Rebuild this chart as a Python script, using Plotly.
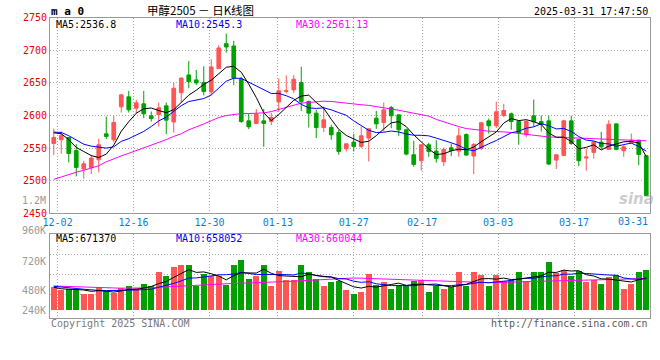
import plotly.graph_objects as go

# ---------------- data ----------------
dates = ["11-29",
         "12-02", "12-03", "12-04", "12-05", "12-06", "12-09", "12-10", "12-11", "12-12", "12-13",
         "12-16", "12-17", "12-18", "12-19", "12-20", "12-23", "12-24", "12-25", "12-26", "12-27",
         "12-30", "12-31",
         "01-02", "01-03", "01-06", "01-07", "01-08", "01-09", "01-10", "01-13", "01-14", "01-15",
         "01-16", "01-17", "01-20", "01-21", "01-22", "01-23", "01-24", "01-27",
         "02-05", "02-06", "02-07", "02-10", "02-11", "02-12", "02-13", "02-14", "02-17", "02-18",
         "02-19", "02-20", "02-21", "02-24", "02-25", "02-26", "02-27", "02-28",
         "03-03", "03-04", "03-05", "03-06", "03-07", "03-10", "03-11", "03-12", "03-13", "03-14",
         "03-17", "03-18", "03-19", "03-20", "03-21", "03-24", "03-25", "03-26", "03-27", "03-28",
         "03-31"]

opens = [2557.1, 2562.8, 2566.3, 2546.4, 2517.9, 2519.9, 2532.1, 2571.9, 2562.8, 2613.3,
         2628.6, 2611.2, 2617.9, 2599.5, 2601.5, 2614.8, 2590.0, 2635.0, 2662.2, 2654.6,
         2650.5, 2636.2, 2671.9, 2710.2, 2706.6, 2656.0, 2591.8, 2587.8, 2591.8, 2590.8,
         2620.9, 2637.0, 2639.3, 2650.5, 2621.4, 2603.6, 2581.6, 2581.6, 2574.0, 2549.0,
         2559.2, 2552.6, 2565.3, 2595.9, 2589.3, 2612.2, 2601.0, 2578.1, 2539.8, 2530.6,
         2555.1, 2545.4, 2529.1, 2550.5, 2545.4, 2570.9, 2537.8, 2549.5, 2591.8, 2584.2,
         2600.0, 2602.6, 2590.8, 2570.4, 2599.5, 2590.8, 2591.8, 2531.6, 2538.8, 2591.8,
         2563.3, 2534.7, 2543.4, 2559.2, 2548.0, 2587.2, 2545.9, 2558.2, 2562.2, 2538.3]
highs = [2580.0, 2575.5, 2567.0, 2556.1, 2530.6, 2539.8, 2564.3, 2598.5, 2599.5, 2633.0,
         2637.8, 2624.0, 2637.8, 2606.1, 2619.9, 2619.9, 2650.0, 2658.0, 2683.7, 2669.9,
         2675.5, 2686.2, 2707.7, 2725.5, 2714.3, 2659.2, 2603.1, 2610.0, 2610.0, 2604.0,
         2656.6, 2661.5, 2662.2, 2675.0, 2623.0, 2608.7, 2613.8, 2585.7, 2578.1, 2556.6,
         2571.9, 2583.2, 2580.1, 2607.1, 2619.9, 2614.8, 2601.0, 2580.0, 2561.2, 2555.6,
         2558.2, 2562.2, 2551.0, 2557.1, 2581.1, 2572.4, 2558.2, 2590.3, 2595.4, 2621.4,
         2617.9, 2604.6, 2592.3, 2593.4, 2624.5, 2600.0, 2599.5, 2539.8, 2592.9, 2599.5,
         2563.3, 2549.5, 2559.7, 2575.0, 2592.9, 2587.2, 2554.6, 2572.4, 2562.2, 2538.3]
lows = [2539.3, 2541.3, 2528.0, 2506.6, 2503.1, 2510.2, 2512.8, 2563.8, 2559.2, 2604.6,
        2604.6, 2603.6, 2595.9, 2590.8, 2583.2, 2571.4, 2574.0, 2620.0, 2641.8, 2646.9,
        2631.0, 2631.1, 2671.9, 2696.4, 2646.4, 2588.8, 2579.1, 2586.7, 2552.0, 2585.0,
        2605.6, 2634.0, 2634.2, 2607.1, 2581.6, 2565.3, 2574.5, 2562.8, 2539.8, 2544.9,
        2544.9, 2550.0, 2529.6, 2579.6, 2575.5, 2580.6, 2568.9, 2538.8, 2521.4, 2515.3,
        2536.7, 2527.6, 2522.4, 2537.8, 2536.7, 2538.5, 2510.2, 2546.9, 2572.4, 2580.6,
        2597.5, 2578.1, 2555.1, 2566.8, 2583.2, 2575.5, 2524.0, 2517.9, 2537.8, 2555.0,
        2522.4, 2515.3, 2534.2, 2548.0, 2548.0, 2546.9, 2536.7, 2557.1, 2524.0, 2477.0]
closes = [2566.3, 2569.4, 2541.8, 2520.4, 2526.0, 2534.7, 2555.1, 2567.9, 2589.3, 2631.6,
          2608.7, 2619.4, 2602.6, 2595.4, 2611.7, 2592.9, 2641.8, 2657.4, 2652.0, 2650.0,
          2636.7, 2674.5, 2703.6, 2705.1, 2657.7, 2590.8, 2582.7, 2602.0, 2587.8, 2597.0,
          2637.8, 2637.8, 2655.6, 2621.4, 2603.6, 2581.6, 2593.4, 2570.4, 2544.9, 2556.6,
          2552.6, 2568.9, 2579.6, 2587.2, 2608.7, 2599.5, 2578.1, 2540.8, 2525.0, 2555.1,
          2544.9, 2534.2, 2548.0, 2546.4, 2568.9, 2539.3, 2555.6, 2588.8, 2584.2, 2605.6,
          2607.7, 2590.8, 2572.9, 2590.8, 2590.3, 2586.7, 2525.5, 2539.8, 2591.8, 2557.1,
          2530.6, 2536.2, 2559.7, 2552.0, 2586.7, 2548.0, 2552.0, 2562.2, 2540.3, 2477.0]

ma5 = [2573.5, 2572.0, 2563.0, 2551.0, 2544.8, 2538.5, 2535.6, 2540.8, 2554.6, 2575.7,
       2590.5, 2603.4, 2610.3, 2611.5, 2607.6, 2604.4, 2608.9, 2619.8, 2631.2, 2638.8,
       2647.6, 2654.1, 2663.4, 2674.0, 2675.5, 2666.3, 2648.0, 2627.7, 2604.2, 2592.1,
       2601.5, 2612.5, 2623.2, 2629.9, 2631.2, 2620.0, 2611.1, 2594.1, 2578.8, 2569.4,
       2563.6, 2558.7, 2560.5, 2569.0, 2579.4, 2588.8, 2590.6, 2582.9, 2570.4, 2559.7,
       2548.8, 2540.0, 2541.4, 2545.7, 2548.5, 2547.4, 2551.6, 2559.8, 2567.4, 2574.7,
       2588.4, 2595.4, 2592.2, 2593.6, 2590.5, 2586.3, 2573.2, 2566.6, 2566.8, 2560.2,
       2549.0, 2551.1, 2555.1, 2547.1, 2553.0, 2556.5, 2559.7, 2560.2, 2557.8, 2536.8]
ma10 = [2574.5, 2574.0, 2569.0, 2563.0, 2556.0, 2553.0, 2551.0, 2550.0, 2552.0, 2560.3,
        2564.5, 2569.5, 2575.6, 2583.1, 2591.7, 2597.5, 2606.2, 2615.1, 2621.4, 2623.2,
        2626.0, 2631.5, 2641.6, 2652.6, 2657.2, 2657.0, 2651.1, 2645.6, 2639.1, 2633.8,
        2633.9, 2630.3, 2625.5, 2617.1, 2611.7, 2610.8, 2611.8, 2608.7, 2604.4, 2600.3,
        2591.8, 2584.9, 2577.3, 2573.9, 2574.4, 2576.2, 2574.7, 2571.7, 2569.7, 2569.6,
        2568.8, 2565.3, 2562.2, 2558.1, 2554.1, 2548.1, 2545.8, 2550.6, 2556.6, 2561.6,
        2567.9, 2573.5, 2576.0, 2580.5, 2582.6, 2587.4, 2584.3, 2579.4, 2580.2, 2575.4,
        2567.7, 2562.2, 2560.9, 2557.0, 2556.6, 2552.8, 2555.4, 2557.7, 2552.5, 2545.3]
ma30 = [2502.0, 2506.0, 2510.0, 2513.0, 2516.0, 2519.0, 2523.0, 2529.0, 2534.0, 2538.0,
        2542.0, 2546.0, 2550.0, 2554.0, 2558.0, 2563.0, 2568.0, 2572.0, 2578.0, 2582.0,
        2587.0, 2592.0, 2597.0, 2600.0, 2602.0, 2603.0, 2603.0, 2603.5, 2604.0, 2606.0,
        2609.0, 2612.0, 2615.0, 2619.0, 2620.0, 2621.0, 2622.0, 2621.5, 2620.0, 2618.5,
        2617.5, 2616.5, 2615.5, 2614.0, 2612.5, 2610.0, 2608.0, 2605.5, 2603.0, 2601.0,
        2599.0, 2594.0, 2590.0, 2586.0, 2583.0, 2580.0, 2578.5, 2577.0, 2576.0, 2575.5,
        2575.0, 2574.0, 2572.5, 2571.0, 2569.5, 2568.0, 2567.0, 2566.8, 2566.4, 2566.2,
        2566.0, 2565.8, 2565.0, 2564.0, 2563.5, 2563.0, 2562.5, 2562.0, 2561.5, 2561.13]

volume_k = [480, 411, 446, 446, 343, 343, 480, 390, 356, 459,
            506, 459, 547, 506, 780, 698, 883, 924, 924, 493,
            746, 698, 698, 527, 924, 1041, 650, 712, 924, 506,
            801, 616, 616, 938, 780, 644, 506, 575, 596, 424,
            342, 383, 753, 520, 588, 445, 520, 520, 609, 629,
            370, 506, 445, 479, 780, 493, 794, 719, 506, 719,
            609, 629, 780, 596, 794, 780, 986, 767, 835, 698,
            815, 575, 629, 547, 678, 726, 445, 547, 780, 835]
vol_ma5 = [480, 450, 440, 440, 425, 397, 412, 400, 382, 406,
           438, 435, 466, 496, 556, 598, 683, 758, 842, 785,
           795, 757, 711, 632, 719, 777, 768, 771, 851, 767,
           719, 712, 692, 695, 751, 719, 697, 689, 620, 549,
           489, 464, 499, 484, 518, 538, 565, 519, 537, 545,
           530, 527, 512, 486, 516, 541, 598, 653, 658, 647,
           669, 637, 648, 667, 682, 714, 788, 784, 832, 813,
           820, 738, 711, 653, 648, 631, 605, 588, 635, 671.37]
vol_ma10 = [500, 490, 470, 455, 440, 425, 415, 412, 412, 416,
            418, 424, 433, 439, 481, 518, 559, 612, 669, 671,
            697, 720, 735, 737, 752, 786, 763, 741, 742, 743,
            748, 740, 732, 773, 759, 719, 705, 691, 658, 650,
            604, 581, 594, 552, 534, 514, 515, 509, 511, 532,
            534, 546, 516, 512, 531, 536, 563, 583, 572, 582,
            605, 618, 651, 663, 665, 692, 713, 716, 750, 748,
            767, 763, 748, 743, 731, 726, 672, 650, 644, 658.052]
vol_ma30 = [506, 503, 499, 494, 488, 482, 476, 470, 466, 462,
            460, 462, 466, 472, 480, 488, 497, 506, 516, 526,
            537, 547, 552, 556, 560, 563, 567, 571, 575, 582,
            590, 598, 606, 615, 622, 630, 638, 645, 655, 663,
            670, 666, 660, 655, 650, 645, 638, 631, 624, 617,
            610, 605, 600, 595, 590, 585, 581, 578, 575, 576,
            578, 583, 588, 592, 598, 604, 610, 614, 618, 622,
            625, 628, 631, 634, 637, 640, 645, 650, 655, 660.044]

label_dates = ["12-02", "12-16", "12-30", "01-13", "01-27", "02-17", "03-03", "03-17"]
last_label = "03-31"
price_ticks = [2450, 2500, 2550, 2600, 2650, 2700, 2750]
vol_grid_k = [322, 732, 1142]
vol_axis_labels = ["960K", "720K", "480K", "240K"]

# ---------------- style ----------------
W, H = 660, 360
MONO = "DejaVu Sans Mono"
RED = "#ff5555"
GREEN = "#00a000"
GRID = "#aaaaaa"
FRAME = "#9a9a9a"
BLUE_TXT = "#0a7fd8"

N = len(dates)
xs = list(range(N))
# Sina spaces its date grid over N-1 steps while candles use N slots
tickpos = [dates.index(d) * N / (N - 1) - 0.5 for d in label_dates]


def px(x):
    return x / W


def py(y):
    return 1 - y / H


fig = go.Figure()

fig.add_trace(go.Candlestick(
    x=xs, open=opens, high=highs, low=lows, close=closes,
    increasing=dict(line=dict(color=RED, width=1), fillcolor=RED),
    decreasing=dict(line=dict(color=GREEN, width=1), fillcolor=GREEN),
    whiskerwidth=0, xaxis="x", yaxis="y", showlegend=False, hoverinfo="skip"))

for vals, col in ((ma30, "#ff00ff"), (ma10, "#0000ff"), (ma5, "#000000")):
    fig.add_trace(go.Scatter(x=xs, y=vals, mode="lines", line=dict(color=col, width=1),
                             xaxis="x", yaxis="y", showlegend=False, hoverinfo="skip"))

bar_colors = [RED if c >= o else GREEN for o, c in zip(opens, closes)]
fig.add_trace(go.Bar(x=xs, y=volume_k, marker=dict(color=bar_colors, line=dict(width=0)),
                     width=0.8, xaxis="x2", yaxis="y2", showlegend=False, hoverinfo="skip"))
for vals, col in ((vol_ma30, "#ff00ff"), (vol_ma10, "#0000ff"), (vol_ma5, "#000000")):
    fig.add_trace(go.Scatter(x=xs, y=vals, mode="lines", line=dict(color=col, width=1),
                             xaxis="x2", yaxis="y2", showlegend=False, hoverinfo="skip"))

xdom = [px(50), px(650)]
common_x = dict(domain=xdom, range=[-0.5, N - 0.5], tickvals=tickpos, showgrid=True,
                gridcolor=GRID, gridwidth=1, griddash="1px,2px", showline=True, mirror=True,
                linecolor=FRAME, linewidth=1, zeroline=False, ticks="", fixedrange=True,
                automargin=False)

fig.update_layout(
    width=W, height=H, autosize=False,
    margin=dict(l=0, r=0, t=0, b=0, pad=0),
    paper_bgcolor="white", plot_bgcolor="white",
    bargap=0, showlegend=False,
    xaxis=dict(**common_x, anchor="y", ticktext=label_dates,
               tickfont=dict(family=MONO, size=10, color=BLUE_TXT),
               rangeslider=dict(visible=False)),
    yaxis=dict(domain=[py(213.3), py(17.7)], range=[2450, 2750], tickvals=price_ticks,
               tickfont=dict(family=MONO, size=10, color="#ee0000"), anchor="x",
               showgrid=True, gridcolor=GRID, gridwidth=1, griddash="1px,2px",
               showline=True, mirror=True, linecolor=FRAME, linewidth=1,
               zeroline=False, ticks="", fixedrange=True, automargin=False),
    xaxis2=dict(**common_x, anchor="y2", showticklabels=False),
    yaxis2=dict(domain=[py(317.7), py(234.3)], range=[-143.5, 1566], tickvals=vol_grid_k,
                showticklabels=False, anchor="x2",
                showgrid=True, gridcolor=GRID, gridwidth=1, griddash="1px,2px",
                showline=True, mirror=True, linecolor=FRAME, linewidth=1,
                zeroline=False, ticks="", fixedrange=True, automargin=False),
)

ann = []


def text(x, y, s, color="#000", size=10, xanchor="left", family=MONO, bold=False):
    ann.append(dict(x=px(x), y=py(y), xref="paper", yref="paper", text=(f"<b>{s}</b>" if bold else s),
                    showarrow=False, xanchor=xanchor, yanchor="middle",
                    font=dict(family=family, size=size, color=color), borderpad=0))


# header
text(50, 11, "m a 0", size=11, bold=True)
text(200, 10, "甲醇2505 － 日K线图", size=11.5, xanchor="center",
     family="Noto Sans CJK SC")
text(649, 11, "2025-03-31 17:47:50", xanchor="right")

# main legend
text(55, 24.5, f"MA5:{ma5[-1]}", color="#000000")
text(175, 24.5, f"MA10:{ma10[-1]}", color="#0000ff")
text(295, 24.5, f"MA30:{ma30[-1]}", color="#ff00ff")

# volume legend
text(55, 238.5, f"MA5:{round(vol_ma5[-1] * 1000)}", color="#000000")
text(175, 238.5, f"MA10:{round(vol_ma10[-1] * 1000)}", color="#0000ff")
text(295, 238.5, f"MA30:{round(vol_ma30[-1] * 1000)}", color="#ff00ff")

# volume axis labels (Sina's own label placement)
for lab, yy in zip(vol_axis_labels, [230.7, 261, 290, 310]):
    text(46.5, yy, lab, color="#9a9a9a", xanchor="right")
text(46.5, 200.7, "1.2M", color="#9a9a9a", xanchor="right")

# last date label squeezed inside
text(649, 221.7, last_label, color=BLUE_TXT, xanchor="right")

# footer
text(50, 323.7, "Copyright 2025 SINA.COM", color="#7a7a7a")
text(649.3, 323.7, "http://finance.sina.com.cn", color="#5a5a5a", xanchor="right")

# watermark
text(636, 199, "<i>sina</i>", color="rgba(160,160,160,0.55)", size=15, xanchor="center",
     family="DejaVu Sans", bold=True)

fig.update_layout(annotations=ann)
fig.write_html("out.html",
               config={"displayModeBar": False, "responsive": False},
               post_script="document.body.style.margin='0';"
                           "document.body.style.padding='0';"
                           "document.body.style.overflow='hidden';")
